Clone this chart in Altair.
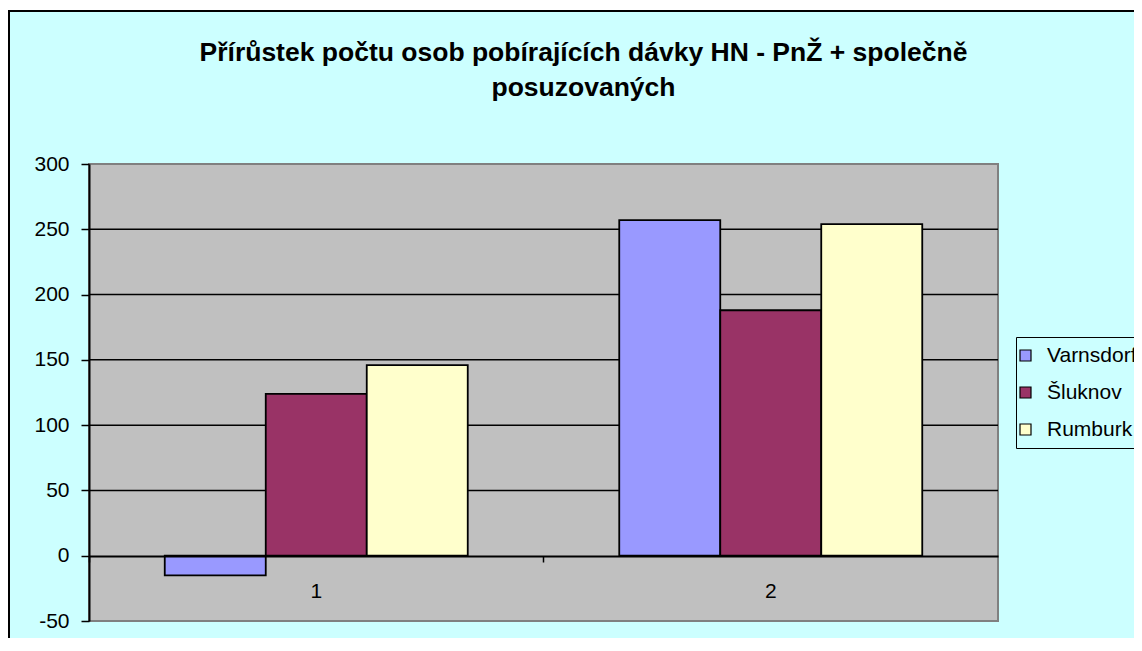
import altair as alt
import pandas as pd

categories = ["1", "2"]
cities = ["Varnsdorf", "Šluknov", "Rumburk"]
varnsdorf = [-15, 257]
sluknov = [124, 188]
rumburk = [146, 254]
colors = ["#9999FF", "#993366", "#FFFFCC"]
grid_values = [50, 100, 150, 200, 250]
y_ticks = [-50, 0, 50, 100, 150, 200, 250, 300]
title_lines = ["Přírůstek počtu osob pobírajících dávky HN - PnŽ + společně", "posuzovaných"]

rows = []
for i, c in enumerate(categories):
    for city, vals in zip(cities, [varnsdorf, sluknov, rumburk]):
        rows.append({"cat": c, "city": city, "value": vals[i]})
df = pd.DataFrame(rows)
grid_df = pd.DataFrame({"v": grid_values})

W, H = 909, 457
FONT = "Liberation Sans"
yscale = alt.Scale(domain=[-50, 300], nice=False, zero=False)

frame = alt.Chart(pd.DataFrame({"a": [0]})).mark_rect(
    fill="#CCFFFF", stroke="black", strokeWidth=2
).encode(x=alt.value(-80), x2=alt.value(W + 300), y=alt.value(-153), y2=alt.value(H + 300))

plotbg = alt.Chart(pd.DataFrame({"a": [0]})).mark_rect(
    fill="#C0C0C0", stroke="#808080", strokeWidth=2
).encode(x=alt.value(0), x2=alt.value(W), y=alt.value(0), y2=alt.value(H))

grid = alt.Chart(grid_df).mark_rule(color="black", strokeWidth=1.5).encode(
    y=alt.Y("v:Q", scale=yscale)
)

bars = alt.Chart(df).mark_bar(stroke="black", strokeWidth=1.8).encode(
    x=alt.X("cat:N", sort=categories, scale=alt.Scale(paddingInner=0, paddingOuter=0),
            axis=alt.Axis(title=None, labelAngle=0, offset=-65, domainColor="black", domainWidth=2,
                          tickColor="black", tickSize=6, tickWidth=1.5, bandPosition=0,
                          labelFont=FONT, labelFontSize=21, labelColor="black", labelPadding=18,
                          zindex=1, grid=False)),
    xOffset=alt.XOffset("city:N", sort=cities, scale=alt.Scale(paddingOuter=0.75, paddingInner=0)),
    y=alt.Y("value:Q", scale=yscale,
            axis=alt.Axis(title=None, values=y_ticks, grid=False, domainColor="black", domainWidth=2,
                          tickColor="black", tickSize=8, tickWidth=1.5, labelFont=FONT,
                          labelFontSize=21, labelColor="black", labelPadding=12, zindex=1,
                          labelExpr="'' + datum.value")),
    color=alt.Color("city:N", sort=cities, scale=alt.Scale(domain=cities, range=colors),
                    legend=alt.Legend(title=None, orient="none", legendX=927, legendY=173,
                                      fillColor="#CCFFFF", strokeColor="black", padding=8,
                                      symbolType="square", symbolSize=121, symbolStrokeColor="black",
                                      symbolStrokeWidth=1.2, symbolOpacity=1, symbolOffset=-9,
                                      labelFont=FONT, labelFontSize=21, labelColor="black",
                                      labelOffset=11, rowPadding=15, zindex=1)),
)

chart = alt.layer(frame, plotbg, grid, bars).properties(
    width=W, height=H,
    title=alt.TitleParams(text=title_lines, font=FONT, fontSize=26.5, fontWeight="bold", color="black",
                          anchor="middle", frame="group", dx=40, offset=-91, lineHeight=35, zindex=1),
    padding={"left": 81, "top": 156, "right": 136, "bottom": 17},
    autosize=alt.AutoSizeParams(type="none"),
    background="white",
).configure_view(stroke=None)

chart.save("out.html", embed_options={"renderer": "svg", "actions": False})
